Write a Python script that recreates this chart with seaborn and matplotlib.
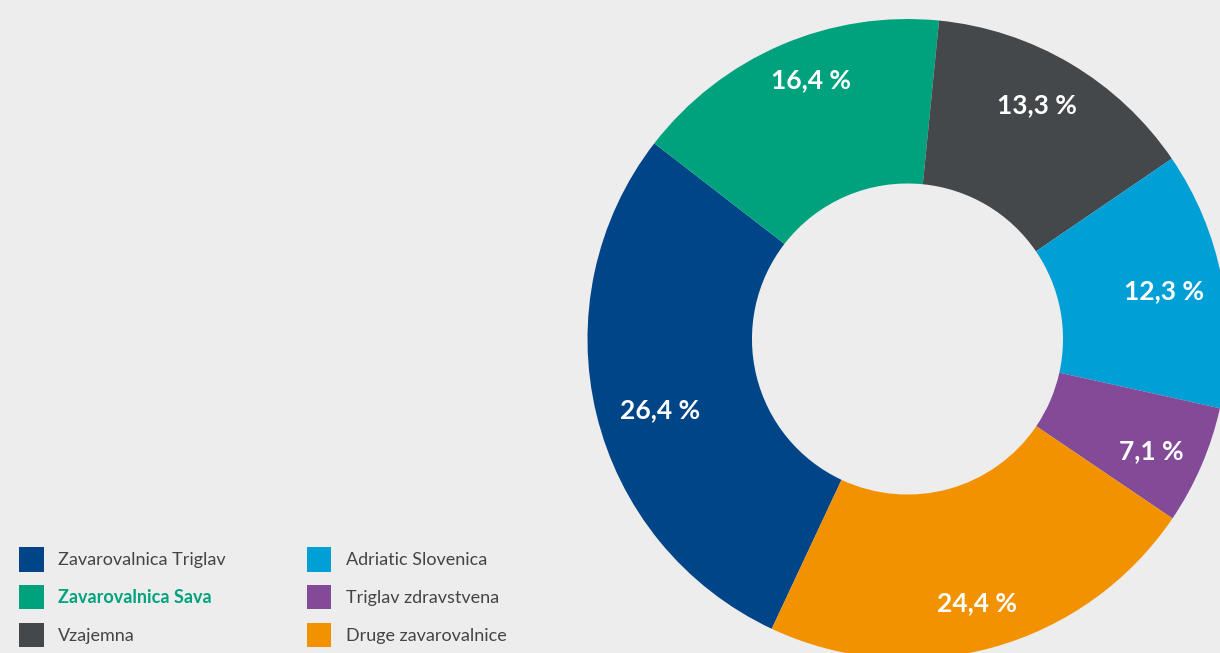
import numpy as np
import matplotlib
matplotlib.use("Agg")
import matplotlib.pyplot as plt
import seaborn as sns

categories = ["Zavarovalnica Triglav", "Zavarovalnica Sava", "Vzajemna",
              "Adriatic Slovenica", "Triglav zdravstvena", "Druge zavarovalnice"]
shares = [28.5, 16.1, 13.9, 13.0, 6.0, 22.5]
value_labels = ["26,4 %", "16,4 %", "13,3 %", "12,3 %", "7,1 %", "24,4 %"]
colors = ["#004587", "#00a27e", "#44484b", "#009fd6", "#834a97", "#f29200"]

# Layout of the value labels (radius fraction, clockwise angle shift in degrees)
label_radius = [0.806, 0.862, 0.834, 0.816, 0.838, 0.855]
label_shift = [-2.45, 2.9, -1.7, 0.4, 1.5, 0.6]

BG = "#ededed"
sns.set_theme(style="white", rc={"figure.facecolor": BG, "axes.facecolor": BG,
                                 "savefig.facecolor": BG})
plt.rcParams['font.family'] = ['Lato', 'DejaVu Sans']
palette = sns.color_palette(colors)

W, H = 1220, 653
fig = plt.figure(figsize=(W / 100, H / 100), dpi=100)
cx, cy, R = 907.5, H - 339, 320
ax = fig.add_axes([(cx - R) / W, (cy - R) / H, 2 * R / W, 2 * R / H])

lab_iter = iter(value_labels)
wedges, texts, autotexts = ax.pie(
    shares, colors=palette, startangle=-115.1, counterclock=False, radius=1,
    wedgeprops=dict(width=0.514, linewidth=0),
    autopct=lambda p: next(lab_iter), pctdistance=0.83,
    textprops=dict(color="white", fontsize=19, fontweight="bold"))
for w, t, rf, sh in zip(wedges, autotexts, label_radius, label_shift):
    mid = np.deg2rad((w.theta1 + w.theta2) / 2 - sh)
    t.set_position((rf * np.cos(mid), rf * np.sin(mid)))
ax.set_xlim(-1, 1)
ax.set_ylim(-1, 1)
ax.set_aspect('equal', adjustable='box')
ax.axis('off')

leg = ax.legend(wedges, categories, loc='lower left',
                bbox_to_anchor=(19.3 / W, 6 / H), bbox_transform=fig.transFigure,
                ncol=2, frameon=False, fontsize=13,
                handlelength=1.351, handleheight=1.70, handletextpad=0.81,
                labelspacing=0.736, columnspacing=4.47, borderpad=0, borderaxespad=0)
for i, t in enumerate(leg.get_texts()):
    t.set_color("#444444")
    if i == 1:
        t.set_color("#00a27e")
        t.set_fontweight("bold")

fig.savefig("out.png", dpi=100, facecolor=BG)
